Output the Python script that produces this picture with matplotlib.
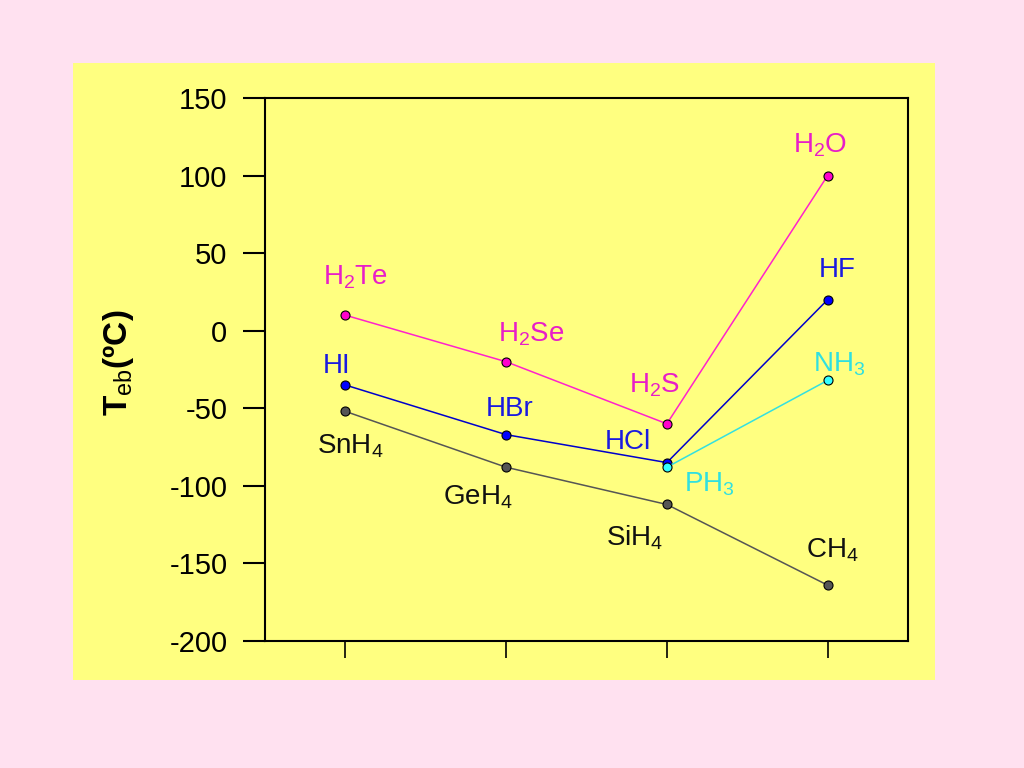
import matplotlib.pyplot as plt
import matplotlib.patches as patches

plt.rcParams['font.family'] = ['Liberation Sans', 'DejaVu Sans']
plt.rcParams['mathtext.fontset'] = 'custom'
plt.rcParams['mathtext.rm'] = 'Liberation Sans'
plt.rcParams['mathtext.bf'] = 'Liberation Sans:bold'
plt.rcParams['axes.unicode_minus'] = False

# boiling points (degC), period 5 -> period 2
periods = [1, 2, 3, 4]
group16 = [10, -20, -60, 100]
group16_labels = ['H$_2$Te', 'H$_2$Se', 'H$_2$S', 'H$_2$O']
group17 = [-35, -67, -85, 20]
group17_labels = ['HI', 'HBr', 'HCl', 'HF']
group15_x = [3, 4]
group15 = [-88, -32]
group15_labels = ['PH$_3$', 'NH$_3$']
group14 = [-52, -88, -112, -164]
group14_labels = ['SnH$_4$', 'GeH$_4$', 'SiH$_4$', 'CH$_4$']

fig = plt.figure(figsize=(10.24, 7.68), dpi=100)
fig.patch.set_facecolor('#FFE1F0')
fig.patches.append(patches.Rectangle((73/1024, 88/768), 862/1024, 617/768,
                                     transform=fig.transFigure, facecolor='#FFFF80',
                                     edgecolor='none', zorder=-10))
ax = fig.add_axes([265/1024, 127/768, 643/1024, 543/768])
ax.set_facecolor('#FFFF80')

series = [
    (periods, group16, group16_labels, '#FF22CC', '#E81EC8', '#FF00CC',
     [(10, 38), (25, 28), (-12, 39), (-8, 30)]),
    (periods, group17, group17_labels, '#0000CC', '#1A1AE0', '#0000FF',
     [(-9, 19), (4, 26), (-39, 21), (10, 30)]),
    (group15_x, group15, group15_labels, '#33E0E0', '#30E0E0', '#33FFFF',
     [(43, -17), (12, 16)]),
    (periods, group14, group14_labels, '#555555', '#111111', '#555555',
     [(5, -35), (-28, -30), (-32, -33), (5, 35)]),
]

for xs, ys, labels, lc, tc, mc, offs in series:
    ax.plot(xs, ys, '-', color=lc, lw=1.1, marker='o', ms=6.5,
            mfc=mc, mec='black', mew=0.8, zorder=3)
    for x, y, lab, off in zip(xs, ys, labels, offs):
        ax.annotate(lab, (x, y), xytext=off, textcoords='offset pixels',
                    ha='center', va='center', fontsize=20, color=tc)

ax.set_xlim(0.5, 4.5)
ax.set_ylim(-200, 150)
ax.set_yticks([150, 100, 50, 0, -50, -100, -150, -200])
ax.set_xticks(periods)
ax.set_xticklabels([])
ax.tick_params(axis='y', direction='out', length=16, width=1.5, pad=11, labelsize=21)
ax.tick_params(axis='x', direction='out', length=12, width=1.2)
for s in ax.spines.values():
    s.set_linewidth(1.5)

fig.text(118/1024, 1 - 363/768, r'$\mathbf{T}_{\mathrm{eb}}\mathbf{(ºC)}$',
         rotation=90, ha='center', va='center', fontsize=24)

plt.savefig('out.png', dpi=100, facecolor=fig.get_facecolor())
